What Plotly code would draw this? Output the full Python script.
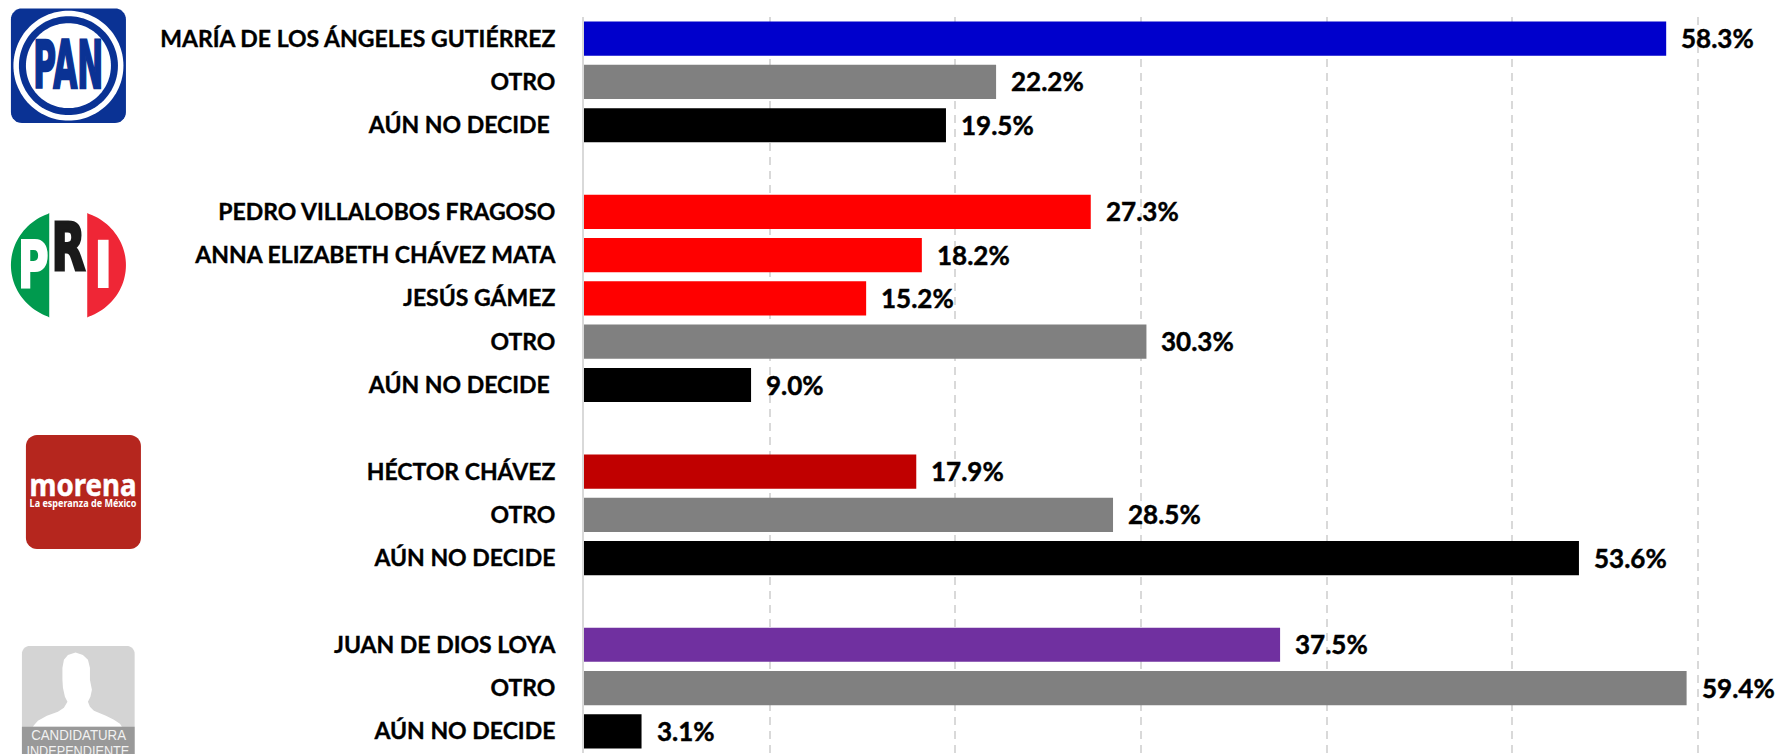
import numpy as np
import plotly.graph_objects as go

# ---------- data ----------
group_pan = ["MARÍA DE LOS ÁNGELES GUTIÉRREZ", "OTRO", "AÚN NO DECIDE\u00a0"]
group_pri = ["PEDRO VILLALOBOS FRAGOSO", "ANNA ELIZABETH CHÁVEZ MATA", "JESÚS GÁMEZ", "OTRO", "AÚN NO DECIDE\u00a0"]
group_morena = ["HÉCTOR CHÁVEZ", "OTRO", "AÚN NO DECIDE"]
group_ind = ["JUAN DE DIOS LOYA", "OTRO", "AÚN NO DECIDE"]

values_pan = [58.3, 22.2, 19.5]
values_pri = [27.3, 18.2, 15.2, 30.3, 9.0]
values_morena = [17.9, 28.5, 53.6]
values_ind = [37.5, 59.4, 3.1]

colors_pan = ["#0000CC", "#808080", "#000000"]
colors_pri = ["#FF0000", "#FF0000", "#FF0000", "#808080", "#000000"]
colors_morena = ["#C00000", "#808080", "#000000"]
colors_ind = ["#7030A0", "#808080", "#000000"]

grid_ticks = [10, 20, 30, 40, 50, 60]
sliver_rows = ["MARÍA DE LOS ÁNGELES GUTIÉRREZ", "PEDRO VILLALOBOS FRAGOSO", "HÉCTOR CHÁVEZ"]

# ---------- assemble ----------
labels, values, colors, rows = [], [], [], []
r = 0
for g, v, c in [(group_pan, values_pan, colors_pan), (group_pri, values_pri, colors_pri),
                (group_morena, values_morena, colors_morena), (group_ind, values_ind, colors_ind)]:
    for a, b, d in zip(g, v, c):
        labels.append(a); values.append(b); colors.append(d); rows.append(r); r += 1
    r += 1

W, H = 1777, 754
L, T = 584.0, 16.6
PW, PH = 64 * 18.56, 736.6


def px(x, y):
    return (x - L) / PW, 1 - (y - T) / PH


def path_of(points):
    return "M" + " L".join("%.5f,%.5f" % px(x, y) for x, y in points) + " Z"


def round_rect(x0, y0, x1, y1, rad):
    pts = []
    for cx, cy, a0 in [(x1 - rad, y0 + rad, -90), (x1 - rad, y1 - rad, 0), (x0 + rad, y1 - rad, 90), (x0 + rad, y0 + rad, 180)]:
        for a in np.radians(np.linspace(a0, a0 + 90, 9)):
            pts.append((cx + rad * np.cos(a), cy + rad * np.sin(a)))
    return pts


def ellipse(cx, cy, rx, ry, xmin=-1e9, xmax=1e9):
    t = np.radians(np.arange(0, 360, 3))
    return [(min(max(cx + rx * np.cos(a), xmin), xmax), cy + ry * np.sin(a)) for a in t]


shapes = []


def fill(points, color):
    shapes.append(dict(type="path", xref="paper", yref="paper", path=path_of(points),
                       fillcolor=color, line=dict(width=0), layer="above"))


annotations = []


def logo_text(text, x, y, size, color, family, bold=True):
    ax, ay = px(x, y)
    annotations.append(dict(text=("<b>%s</b>" % text) if bold else text, xref="paper", yref="paper", x=ax, y=ay,
                            xanchor="center", yanchor="middle", showarrow=False,
                            font=dict(size=size, color=color, family=family)))


# PAN logo
fill(round_rect(11, 8, 126, 122.7, 11), "#0A3294")
fill(ellipse(68.5, 65.3, 55, 55), "#FFFFFF")
fill(ellipse(68.5, 65.3, 49.5, 49.5), "#0A3294")
fill(ellipse(68.5, 65.3, 42.5, 42.5), "#FFFFFF")
logo_text("PAN", 69, 65.5, 66, "#0A3294", "DejaVu Sans")

# PRI logo
fill(ellipse(68.5, 265, 57.5, 55, xmax=49.3), "#009A4E")
fill(ellipse(68.5, 265, 57.5, 55, xmin=87.3), "#EF2636")
logo_text("P", 33.5, 265.5, 66, "#FFFFFF", "DejaVu Sans")
logo_text("R", 69, 247.5, 66, "#1A1A1A", "DejaVu Sans")
logo_text("I", 103.5, 265.5, 66, "#FFFFFF", "DejaVu Sans")

# morena logo
fill(round_rect(26, 435, 141, 549, 11), "#B5261E")
logo_text("morena", 83.5, 483.5, 31, "#FFFFFF", "Noto Sans")
logo_text("La esperanza de México", 83.5, 502.5, 10, "#FFFFFF", "Noto Sans")

# independent candidate placeholder
fill(round_rect(22, 646, 134.7, 770, 8), "#D4D4D4")
silhouette = [(75.6, 652.5), (68, 655), (64, 660), (62.5, 668), (62.5, 680), (63, 688), (65, 697), (67.5, 702),
              (64, 708), (58, 712), (47, 716), (38, 721), (34, 725.5), (33, 727), (122, 727), (120, 724), (114, 720),
              (106, 716), (94, 711), (90, 707), (88, 702), (90.5, 697), (92, 690), (90, 680), (90, 668), (88, 660),
              (83, 655)]
fill(silhouette, "#FFFFFF")
fill([(22, 727), (134.7, 727), (134.7, 770), (22, 770)], "#999999")
logo_text("CANDIDATURA", 78.5, 734.5, 15, "#F2F2F2", "Liberation Sans", bold=False)
logo_text("INDEPENDIENTE", 78.5, 750.5, 15, "#F2F2F2", "Liberation Sans", bold=False)

# value labels
for v, y in zip(values, rows):
    annotations.append(dict(text="<b>%.1f%%</b>" % v, x=v, y=y, xref="x", yref="y", xanchor="left", yanchor="middle",
                            xshift=13, yshift=0.5, showarrow=False,
                            font=dict(size=26, color="#000000", family="Lato")))

fig = go.Figure()
fig.add_bar(y=rows, x=values, orientation="h", marker=dict(color=colors, line=dict(width=0)),
            hoverinfo="skip", showlegend=False)
sliver = [-0.16 if (a in sliver_rows or (a == "OTRO" and i in (1, 6)) or (a == "AÚN NO DECIDE" and i == 10)) else 0
          for i, a in enumerate(labels)]
fig.add_bar(y=rows, x=sliver, orientation="h", marker=dict(color=colors, line=dict(width=0)),
            hoverinfo="skip", showlegend=False)

fig.update_layout(
    width=W, height=H, barmode="relative", bargap=0.21,
    margin=dict(l=L, r=W - L - PW, t=T, b=H - T - PH, pad=0, autoexpand=False),
    paper_bgcolor="#FFFFFF", plot_bgcolor="#FFFFFF",
    shapes=shapes, annotations=annotations,
    xaxis=dict(range=[0, 64], tickmode="array", tickvals=grid_ticks, showticklabels=False, ticks="",
               showgrid=True, gridcolor="#D9D9D9", gridwidth=2, griddash="8px,6px", zeroline=False),
    yaxis=dict(range=[16.5, -0.5], tickmode="array", tickvals=rows, ticktext=["<b>%s</b>" % s for s in labels],
               ticks="", showgrid=False, zeroline=False, showline=True, linecolor="#D9D9D9", linewidth=2,
               ticklabelstandoff=22, tickfont=dict(size=23, color="#000000", family="Lato")),
)

post = """
document.body.style.margin='0';
var fit={'PAN':[70,2.6],'P':[31,2],'R':[34,3],'I':[21,0],'morena':[107,0.5],'La esperanza de México':[107,0],
'CANDIDATURA':[95,0],'INDEPENDIENTE':[103,0]};
document.querySelectorAll('.annotation-text').forEach(function(t){
  var f=fit[t.textContent];
  if(!f){t.style.stroke='#000';t.style.strokeWidth='0.45px';return;}
  var b=t.getBBox(), cx=b.x+b.width/2, s=f[0]/b.width;
  t.setAttribute('transform','translate('+cx+',0) scale('+s+',1) translate('+(-cx)+',0)');
  if(f[1]){t.style.stroke=t.style.fill; t.style.strokeWidth=f[1]+'px';}
});
document.querySelectorAll('.ytick text').forEach(function(t){t.style.stroke='#000';t.style.strokeWidth='0.35px';});
"""
fig.write_html("out.html", post_script=post, config={"displayModeBar": False})
